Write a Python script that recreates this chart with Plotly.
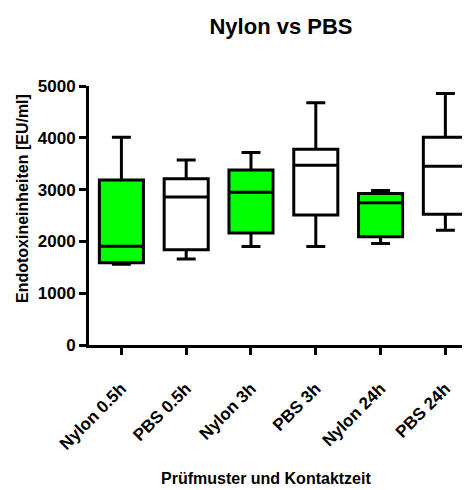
import plotly.graph_objects as go

categories = ["Nylon 0.5h", "PBS 0.5h", "Nylon 3h", "PBS 3h", "Nylon 24h", "PBS 24h"]

nylon_x = ["Nylon 0.5h", "Nylon 3h", "Nylon 24h"]
nylon_min = [1560, 1900, 1960]
nylon_q1 = [1590, 2160, 2090]
nylon_median = [1905, 2950, 2745]
nylon_q3 = [3185, 3380, 2925]
nylon_max = [4010, 3715, 2985]

pbs_x = ["PBS 0.5h", "PBS 3h", "PBS 24h"]
pbs_min = [1660, 1900, 2215]
pbs_q1 = [1840, 2510, 2525]
pbs_median = [2855, 3470, 3450]
pbs_q3 = [3210, 3780, 4010]
pbs_max = [3570, 4675, 4855]

y_ticks = [0, 1000, 2000, 3000, 4000, 5000]

FONT = "Liberation Sans, Arial, sans-serif"

# page body has an 8px margin; figure coordinates = page coordinates - 8
W, H = 462, 482
L, T, B = 81, 78, 337
PW, PH = W - L, B - T

fig = go.Figure()
fig.add_trace(go.Box(
    x=nylon_x, q1=nylon_q1, median=nylon_median, q3=nylon_q3,
    lowerfence=nylon_min, upperfence=nylon_max,
    fillcolor="#00FF00", line=dict(color="black", width=3),
    width=0.68, whiskerwidth=0.43, boxpoints=False, name="Nylon",
    hoverinfo="skip",
))
fig.add_trace(go.Box(
    x=pbs_x, q1=pbs_q1, median=pbs_median, q3=pbs_q3,
    lowerfence=pbs_min, upperfence=pbs_max,
    fillcolor="white", line=dict(color="black", width=3),
    width=0.68, whiskerwidth=0.43, boxpoints=False, name="PBS",
    hoverinfo="skip",
))

fig.update_layout(
    width=W, height=H,
    margin=dict(l=L, r=0, t=T, b=H - B, pad=0),
    paper_bgcolor="white", plot_bgcolor="white",
    showlegend=False, boxmode="overlay",
    title=dict(text="Nylon vs PBS", x=273/W, xref="container", xanchor="center",
               y=1-18/H, yref="container", yanchor="middle",
               font=dict(family=FONT, size=22, color="black", weight="bold")),
    xaxis=dict(
        type="category", categoryorder="array", categoryarray=categories,
        range=[-0.5, 5.38], showline=True, linecolor="black", linewidth=3,
        ticks="outside", ticklen=7, tickwidth=3, tickcolor="black",
        tickangle=-45, showgrid=False, zeroline=False, ticklabelstandoff=17,
        tickfont=dict(family=FONT, size=17, color="black", weight="bold"),
    ),
    yaxis=dict(
        range=[0, 5000], tickvals=y_ticks, showline=True, linecolor="black", linewidth=3,
        ticks="outside", ticklen=7, tickwidth=3, tickcolor="black",
        showgrid=False, zeroline=False,
        tickfont=dict(family=FONT, size=17, color="black", weight="bold"),
    ),
    annotations=[
        dict(text="Endotoxineinheiten [EU/ml]", textangle=-90, xref="paper", yref="paper",
             x=(14-L)/PW, y=(B-191)/PH, xanchor="center", yanchor="middle",
             showarrow=False, font=dict(family=FONT, size=16, color="black", weight="bold")),
        dict(text="Prüfmuster und Kontaktzeit", xref="paper", yref="paper",
             x=(258-L)/PW, y=(B-471)/PH, xanchor="center", yanchor="middle",
             showarrow=False, font=dict(family=FONT, size=16, color="black", weight="bold")),
    ],
)

fig.write_html("out.html")
